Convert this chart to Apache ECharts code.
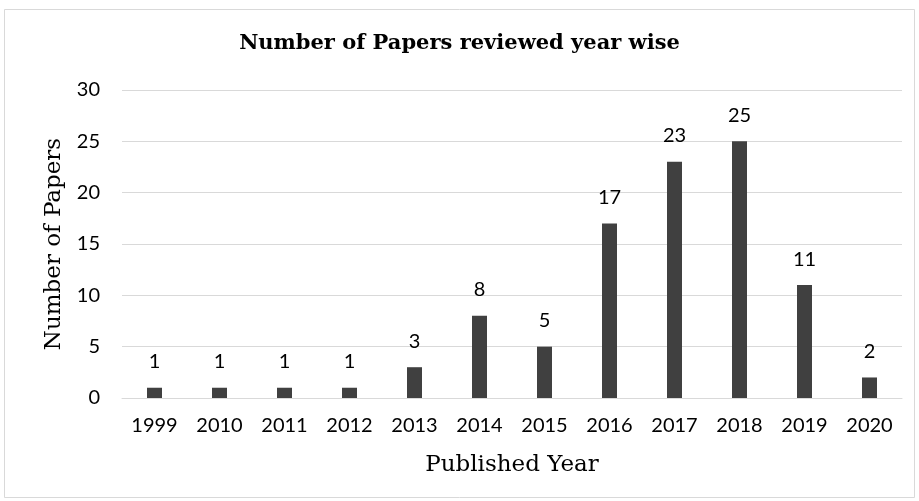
<!DOCTYPE html>
<html><head><meta charset="utf-8">
<script src="https://cdn.jsdelivr.net/npm/echarts@6/dist/echarts.min.js"></script>
<style>html,body{margin:0;padding:0;background:#fff}#c{width:919px;height:501px}</style>
</head><body><div id="c"></div>
<script>
const years = ['1999','2010','2011','2012','2013','2014','2015','2016','2017','2018','2019','2020'];
const papers = [1,1,1,1,3,8,5,17,23,25,11,2];
const yTicks = [0,5,10,15,20,25,30];

const chart = echarts.init(document.getElementById('c'), null, {renderer:'canvas'});
chart.setOption({
  animation:false,
  backgroundColor:'#fff',
  graphic:[{type:'rect',shape:{x:4.5,y:9.5,width:910,height:488},style:{fill:'none',stroke:'#d9d9d9',lineWidth:1},z:-1}],
  title:{text:'Number of Papers reviewed year wise',left:'center',top:28,
    textStyle:{fontFamily:'DejaVu Serif',fontWeight:'bold',fontSize:21,color:'#000'}},
  grid:{left:122,right:17,top:90,bottom:103},
  xAxis:{type:'category',data:years,
    axisLine:{lineStyle:{color:'#d9d9d9',width:1}},axisTick:{show:false},
    axisLabel:{color:'#000',fontFamily:'Lato',fontSize:20,margin:18},
    name:'Published Year',nameLocation:'middle',nameGap:56,
    nameTextStyle:{fontFamily:'DejaVu Serif',fontSize:23,color:'#000'}},
  yAxis:{type:'value',min:yTicks[0],max:yTicks[yTicks.length-1],interval:5,
    axisLine:{show:false},axisTick:{show:false},
    splitLine:{lineStyle:{color:'#d9d9d9',width:1}},
    axisLabel:{color:'#000',fontFamily:'Lato',fontSize:20,margin:22},
    name:'Number of Papers',nameLocation:'middle',nameGap:56,
    nameTextStyle:{fontFamily:'DejaVu Serif',fontSize:23,color:'#000'}},
  series:[{type:'bar',data:papers,barWidth:15,
    itemStyle:{color:'#404040'},
    label:{show:true,position:'top',distance:16,color:'#000',fontFamily:'Lato',fontSize:20}}]
});
</script></body></html>
